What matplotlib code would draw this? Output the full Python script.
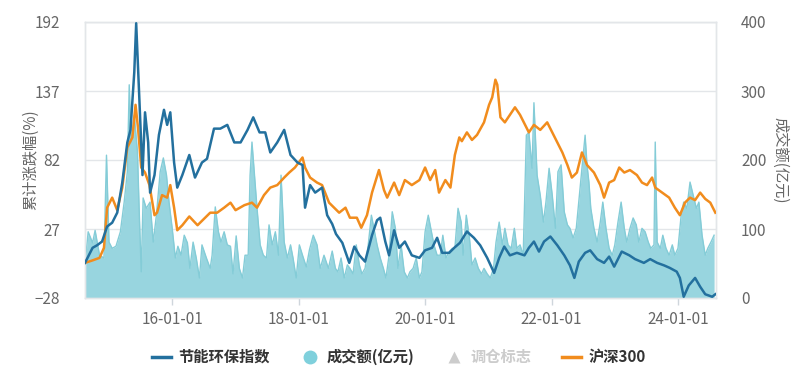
import matplotlib
matplotlib.use("Agg")
import matplotlib.pyplot as plt
from matplotlib.lines import Line2D
import pandas as pd
import numpy as np

plt.rcParams['font.family'] = ['Noto Sans CJK SC', 'DejaVu Sans']

# ---- data (dates as decimal years) ----
idx_t = [2014.62, 2014.74, 2014.81, 2014.89, 2014.97, 2015.05, 2015.13, 2015.21, 2015.29, 2015.34,
         2015.40, 2015.43, 2015.48, 2015.53, 2015.57, 2015.62, 2015.65, 2015.72, 2015.79, 2015.87,
         2015.92, 2015.97, 2016.03, 2016.08, 2016.16, 2016.27, 2016.36, 2016.47, 2016.55, 2016.60,
         2016.66, 2016.76, 2016.87, 2016.98, 2017.08, 2017.19, 2017.28, 2017.38, 2017.47, 2017.55,
         2017.66, 2017.77, 2017.87, 2017.98, 2018.06, 2018.10, 2018.18, 2018.26, 2018.37, 2018.45,
         2018.53, 2018.59, 2018.69, 2018.80, 2018.88, 2018.96, 2019.05, 2019.16, 2019.24, 2019.29,
         2019.37, 2019.43, 2019.51, 2019.59, 2019.68, 2019.79, 2019.91, 2020.00, 2020.11, 2020.19,
         2020.27, 2020.38, 2020.46, 2020.55, 2020.66, 2020.77, 2020.87, 2020.98, 2021.09, 2021.17,
         2021.25, 2021.34, 2021.45, 2021.57, 2021.64, 2021.72, 2021.80, 2021.88, 2021.98, 2022.09,
         2022.20, 2022.29, 2022.36, 2022.43, 2022.53, 2022.61, 2022.72, 2022.83, 2022.91, 2022.99,
         2023.11, 2023.23, 2023.32, 2023.46, 2023.56, 2023.67, 2023.78, 2023.87, 2023.98, 2024.03,
         2024.09, 2024.17, 2024.27, 2024.35, 2024.43, 2024.54, 2024.59]
idx_v = [0, 12, 14, 17, 29, 32, 40, 64, 96, 106,
         152, 191, 131, 70, 120, 96, 56, 70, 102, 122,
         110, 120, 80, 60, 70, 86, 68, 80, 83, 94,
         107, 107, 110, 96, 96, 106, 116, 104, 104, 88,
         96, 106, 86, 80, 78, 44, 62, 56, 60, 38,
         31, 23, 16, 0, 13, 6, 1, 22, 34, 36,
         17, 6, 26, 12, 17, 6, 4, 10, 12, 20,
         8, 8, 12, 16, 25, 20, 14, 4, -8, 4,
         13, 6, 8, 6, 12, 17, 9, 17, 21, 14,
         6, -2, -12, 1, 8, 10, 3, 0, 5, -3,
         9, 6, 3, 0, 3, 0, -2, -4, -7, -12,
         -27, -18, -12, -19, -25, -27, -25]

hs_t = [2014.62, 2014.74, 2014.85, 2014.92, 2014.97, 2015.05, 2015.13, 2015.21, 2015.29, 2015.37,
        2015.42, 2015.46, 2015.51, 2015.57, 2015.64, 2015.72, 2015.76, 2015.84, 2015.92, 2015.97,
        2016.03, 2016.08, 2016.16, 2016.27, 2016.40, 2016.52, 2016.60, 2016.71, 2016.82, 2016.92,
        2017.00, 2017.14, 2017.26, 2017.34, 2017.45, 2017.55, 2017.66, 2017.77, 2017.85, 2017.94,
        2018.06, 2018.10, 2018.18, 2018.29, 2018.37, 2018.48, 2018.56, 2018.64, 2018.74, 2018.81,
        2018.92, 2018.99, 2019.08, 2019.16, 2019.27, 2019.35, 2019.40, 2019.51, 2019.59, 2019.68,
        2019.79, 2019.91, 2020.00, 2020.08, 2020.16, 2020.22, 2020.32, 2020.40, 2020.47, 2020.54,
        2020.58, 2020.66, 2020.74, 2020.82, 2020.93, 2021.01, 2021.06, 2021.11, 2021.14, 2021.19,
        2021.26, 2021.34, 2021.42, 2021.50, 2021.58, 2021.64, 2021.72, 2021.82, 2021.93, 2022.01,
        2022.09, 2022.17, 2022.25, 2022.32, 2022.40, 2022.48, 2022.56, 2022.67, 2022.77, 2022.83,
        2022.91, 2022.99, 2023.07, 2023.15, 2023.24, 2023.35, 2023.43, 2023.51, 2023.59, 2023.64,
        2023.75, 2023.86, 2023.95, 2024.03, 2024.11, 2024.19, 2024.27, 2024.35, 2024.43, 2024.51,
        2024.59]
hs_v = [0, 2, 4, 12, 44, 52, 42, 60, 92, 100,
        126, 107, 76, 72, 62, 38, 40, 54, 52, 62,
        44, 26, 30, 37, 30, 36, 40, 40, 44, 48,
        42, 46, 48, 44, 54, 60, 62, 68, 72, 76,
        84, 76, 68, 64, 62, 48, 44, 40, 44, 36,
        36, 28, 38, 56, 74, 58, 52, 64, 54, 66,
        62, 66, 76, 66, 74, 56, 66, 60, 86, 100,
        97, 104, 98, 102, 112, 126, 132, 146, 142, 116,
        112, 118, 124, 118, 110, 104, 110, 106, 112, 104,
        96, 88, 78, 68, 72, 88, 78, 72, 62, 52,
        64, 66, 76, 72, 74, 70, 64, 62, 68, 60,
        56, 52, 44, 38, 48, 52, 50, 56, 51, 48,
        40]

vol_t = [2014.62, 2014.67, 2014.74, 2014.78, 2014.85, 2014.92, 2014.96, 2015.00, 2015.05, 2015.11,
         2015.18, 2015.24, 2015.29, 2015.32, 2015.35, 2015.40, 2015.45, 2015.48, 2015.51, 2015.54,
         2015.59, 2015.65, 2015.70, 2015.75, 2015.81, 2015.86, 2015.91, 2015.95, 2016.00, 2016.05,
         2016.09, 2016.14, 2016.19, 2016.24, 2016.28, 2016.33, 2016.38, 2016.43, 2016.47, 2016.54,
         2016.60, 2016.63, 2016.68, 2016.73, 2016.77, 2016.82, 2016.87, 2016.92, 2016.96, 2017.01,
         2017.06, 2017.11, 2017.15, 2017.20, 2017.23, 2017.26, 2017.30, 2017.34, 2017.39, 2017.44,
         2017.49, 2017.53, 2017.58, 2017.63, 2017.68, 2017.72, 2017.77, 2017.82, 2017.87, 2017.91,
         2017.96, 2018.01, 2018.06, 2018.12, 2018.17, 2018.23, 2018.29, 2018.34, 2018.40, 2018.47,
         2018.53, 2018.58, 2018.62, 2018.67, 2018.72, 2018.77, 2018.81, 2018.86, 2018.91, 2018.96,
         2019.00, 2019.05, 2019.10, 2019.15, 2019.19, 2019.24, 2019.29, 2019.34, 2019.38, 2019.43,
         2019.48, 2019.53, 2019.57, 2019.62, 2019.67, 2019.72, 2019.76, 2019.81, 2019.86, 2019.91,
         2019.95, 2020.00, 2020.05, 2020.09, 2020.14, 2020.19, 2020.24, 2020.28, 2020.33, 2020.38,
         2020.43, 2020.47, 2020.52, 2020.57, 2020.60, 2020.65, 2020.70, 2020.74, 2020.79, 2020.84,
         2020.89, 2020.93, 2020.98, 2021.03, 2021.08, 2021.12, 2021.17, 2021.22, 2021.26, 2021.31,
         2021.36, 2021.41, 2021.45, 2021.50, 2021.55, 2021.60, 2021.64, 2021.69, 2021.72, 2021.77,
         2021.82, 2021.87, 2021.91, 2021.96, 2022.01, 2022.06, 2022.10, 2022.15, 2022.20, 2022.25,
         2022.29, 2022.34, 2022.39, 2022.43, 2022.48, 2022.53, 2022.56, 2022.59, 2022.62, 2022.67,
         2022.72, 2022.77, 2022.81, 2022.86, 2022.91, 2022.96, 2023.00, 2023.05, 2023.10, 2023.15,
         2023.19, 2023.24, 2023.29, 2023.34, 2023.38, 2023.43, 2023.48, 2023.53, 2023.57, 2023.62,
         2023.64, 2023.67, 2023.72, 2023.76, 2023.81, 2023.86, 2023.91, 2023.95, 2024.00, 2024.05,
         2024.09, 2024.14, 2024.19, 2024.24, 2024.29, 2024.33, 2024.38, 2024.43, 2024.47, 2024.52,
         2024.57]
vol_v = [48, 96, 80, 98, 62, 58, 207, 81, 72, 75,
         96, 139, 183, 309, 226, 265, 212, 120, 38, 145,
         130, 139, 81, 120, 183, 203, 178, 139, 101, 58,
         75, 62, 91, 80, 43, 81, 58, 29, 77, 58,
         43, 62, 132, 96, 81, 96, 77, 75, 35, 90,
         43, 29, 62, 62, 178, 226, 178, 130, 77, 62,
         58, 106, 77, 96, 62, 178, 81, 58, 77, 58,
         29, 77, 62, 45, 70, 91, 77, 43, 62, 43,
         68, 43, 38, 58, 29, 48, 43, 35, 77, 48,
         35, 43, 77, 120, 101, 77, 58, 43, 29, 62,
         125, 101, 43, 77, 38, 29, 38, 43, 58, 29,
         38, 96, 120, 101, 77, 62, 62, 91, 58, 67,
         72, 72, 130, 110, 62, 120, 87, 48, 58, 43,
         35, 43, 35, 29, 43, 81, 110, 77, 101, 77,
         72, 101, 72, 77, 62, 236, 240, 188, 283, 178,
         149, 110, 139, 188, 149, 101, 183, 193, 125, 106,
         101, 87, 101, 139, 188, 236, 193, 168, 130, 101,
         81, 110, 139, 101, 72, 62, 77, 110, 139, 101,
         81, 101, 116, 106, 81, 101, 96, 81, 72, 77,
         226, 81, 72, 91, 72, 62, 77, 62, 72, 120,
         139, 130, 168, 149, 130, 139, 91, 62, 72, 81,
         91]

x_ticks = ['2016-01-01', '2018-01-01', '2020-01-01', '2022-01-01', '2024-01-01']
x_tick_labels = ['16-01-01', '18-01-01', '20-01-01', '22-01-01', '24-01-01']
left_ticks = [-28, 27, 82, 137, 192]
right_ticks = [0, 100, 200, 300, 400]


def to_dt(years):
    out = []
    for y in years:
        yi = int(np.floor(y))
        start = pd.Timestamp(year=yi, month=1, day=1)
        end = pd.Timestamp(year=yi + 1, month=1, day=1)
        out.append(start + (end - start) * (y - yi))
    return pd.to_datetime(out)


C_BLUE = '#23709e'
C_ORANGE = '#f18c1d'
C_VOL = '#98d5df'
C_VOL_EDGE = '#84ccd7'
C_TXT = '#666666'
C_GRID = '#e3e6e9'

fig = plt.figure(figsize=(7.98, 3.87), dpi=100)
ax = fig.add_axes([85 / 798, 1 - 298 / 387, (716 - 85) / 798, (298 - 22) / 387])
ax2 = ax.twinx()
ax.set_zorder(ax2.get_zorder() + 1)
ax.patch.set_visible(False)

# volume area (right axis)
vt = to_dt(vol_t)
ax2.fill_between(vt, 0, vol_v, color=C_VOL, lw=0, zorder=2)
ax2.plot(vt, vol_v, color=C_VOL_EDGE, lw=1.0, zorder=3)
ax2.set_ylim(0, 400)
ax2.set_yticks(right_ticks)
ax2.grid(axis='y', color=C_GRID, lw=1.0, zorder=0)
ax2.set_axisbelow(True)

# lines (left axis)
ax.plot(to_dt(idx_t), idx_v, color=C_BLUE, lw=1.8, zorder=5)
ax.plot(to_dt(hs_t), hs_v, color=C_ORANGE, lw=1.8, zorder=4)
ax.set_ylim(-28, 192)
ax.set_yticks(left_ticks)

xmin, xmax = to_dt([2014.62, 2024.60])
ax.set_xlim(xmin, xmax)
ax.set_xticks(pd.to_datetime(x_ticks))
ax.set_xticklabels(x_tick_labels)

for a in (ax, ax2):
    for s in a.spines.values():
        s.set_color(C_GRID)
        s.set_linewidth(1.0)

ax.tick_params(axis='y', length=0, pad=18, labelsize=11, labelcolor=C_TXT)
ax2.tick_params(axis='y', length=0, pad=18, labelsize=11, labelcolor=C_TXT)
ax.tick_params(axis='x', length=5, width=1, color='#cfd6dc', pad=4, labelsize=11, labelcolor=C_TXT)

ax.set_ylabel('累计涨跌幅(%)', fontsize=11, color=C_TXT, va='center')
ax.yaxis.set_label_coords(-0.087, 0.5)
ax2.set_ylabel('成交额(亿元)', fontsize=11, color=C_TXT, rotation=270, va='center')
ax2.yaxis.set_label_coords(1.101, 0.5)

handles = [
    Line2D([0], [0], color=C_BLUE, lw=2.5),
    Line2D([0], [0], marker='o', color='none', markerfacecolor='#7fd0dc', markeredgecolor='none', markersize=10),
    Line2D([0], [0], marker='^', color='none', markerfacecolor='#cccccc', markeredgecolor='none', markersize=8),
    Line2D([0], [0], color=C_ORANGE, lw=2.5),
]
labels = ['节能环保指数', '成交额(亿元)', '调仓标志', '沪深300']
leg = fig.legend(handles, labels, loc='center', bbox_to_anchor=(0.5, 1 - 357 / 387), ncol=4,
                 frameon=False, fontsize=11, handlelength=1.2, handletextpad=0.5, columnspacing=2.0)
for i, t in enumerate(leg.get_texts()):
    t.set_fontweight('bold')
    t.set_color('#cccccc' if i == 2 else '#333333')

fig.savefig('out.png', dpi=100)
